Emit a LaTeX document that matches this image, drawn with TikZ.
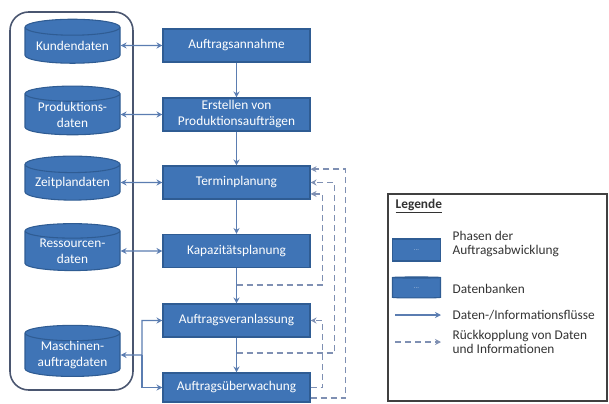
\documentclass[tikz,border=0pt]{standalone}
\usepackage{fontspec}
\setmainfont{Carlito}
\usetikzlibrary{shapes.geometric,arrows.meta}
\definecolor{phasefill}{HTML}{3F74B6}
\definecolor{phaseline}{HTML}{2F5C93}
\definecolor{flowline}{HTML}{5B7DB1}
\definecolor{backline}{HTML}{7F90B3}
\definecolor{frameline}{HTML}{4A5670}
\begin{document}
\begin{tikzpicture}[x=0.75pt,y=-0.75pt,>={Stealth[length=4.5pt,width=4.5pt]},
    phase/.style={draw=phaseline,fill=phasefill,line width=0.8pt,text=white,align=center,
      minimum width=110.25pt,minimum height=24.75pt,inner sep=1pt,font=\fontsize{10}{12}\selectfont},
    dbase/.style={cylinder,shape border rotate=90,aspect=0.22,draw=phaseline,fill=phasefill,
      line width=0.8pt,text=white,align=center,minimum width=71.25pt,minimum height=33pt,
      inner sep=0pt,font=\fontsize{10}{12}\selectfont},
    flow/.style={draw=flowline,line width=1.1pt},
    feedback/.style={draw=backline,line width=1.1pt,dash pattern=on 4.5pt off 3pt},
    legtext/.style={anchor=west,align=left,text=black!80,font=\fontsize{10}{11}\selectfont}]
  \useasboundingbox (0,0) rectangle (609,403);
  % phases
  \node[phase] (annahme) at (236.5,45.5) {Auftragsannahme};
  \node[phase] (erstellen) at (236.5,114.5) {Erstellen von\\Produktionsaufträgen};
  \node[phase] (termin) at (236.5,182.5) {Terminplanung};
  \node[phase] (kapa) at (236.5,251) {Kapazitätsplanung};
  \node[phase] (veran) at (236.5,320.5) {Auftragsveranlassung};
  \node[phase,minimum height=21.75pt] (ueber) at (236.5,387.5) {Auftragsüberwachung};
  % databases
  \draw[frameline,line width=1.2pt,rounded corners=14pt] (10,12) rectangle (133,390);
  \node[dbase] (kunden) at (72.5,45.5) {Kundendaten};
  \node[dbase] (prod) at (72.5,114.5) {Produktions-\\daten};
  \node[dbase] (zeit) at (72.5,182.5) {Zeitplandaten};
  \node[dbase] (ress) at (72.5,251) {Ressourcen-\\daten};
  \node[dbase] (masch) at (72.5,355) {Maschinen-\\auftragdaten};
  % flows
  \draw[flow,<->] (kunden.east) -- (annahme.west);
  \draw[flow,<->] (prod.east) -- (erstellen.west);
  \draw[flow,<->] (zeit.east) -- (termin.west);
  \draw[flow,<->] (ress.east) -- (kapa.west);
  \coordinate (split) at (142,355);
  \draw[flow,<->] (masch.east) -- (split) |- (veran.west);
  \draw[flow,->] (split) |- (ueber.west);
  \draw[flow,->] (annahme) -- (erstellen);
  \draw[flow,->] (erstellen) -- (termin);
  \draw[flow,->] (termin) -- (kapa);
  \draw[flow,->] (kapa) -- (veran);
  \draw[flow,->] (veran) -- (ueber);
  % feedback
  \coordinate (fbkapa) at (236.5,285);
  \coordinate (fbveran) at (236.5,353);
  \draw[feedback,->] (fbkapa) -| ([xshift=9pt,yshift=-8.6pt]termin.east) -- ([yshift=-8.6pt]termin.east);
  \draw[feedback,->] (fbveran) -| ([xshift=18pt]termin.east) -- (termin.east);
  \draw[feedback,->] ([yshift=-7.9pt]ueber.east) -| ([xshift=26.25pt,yshift=10pt]termin.east) -- ([yshift=10pt]termin.east);
  \draw[feedback,->] (ueber.east) -| ([xshift=9pt]veran.east) -- (veran.east);
  % legend
  \draw[black!75,line width=1.1pt] (388,194) rectangle (607,401);
  \node[legtext,font=\fontsize{10}{11}\selectfont\bfseries] (legtitle) at (391,206) {\underline{Legende}};
  \node[phase,minimum width=36pt,minimum height=16.5pt,font=\tiny,text=white!60!phasefill] (legphase) at (416.5,250) {...};
  \node[legtext] (legphasetext) at (448,244) {Phasen der\\Auftragsabwicklung};
  \node[dbase,minimum width=36pt,minimum height=15.75pt,font=\tiny,text=white!60!phasefill] (legdb) at (416.5,288) {...};
  \node[legtext] (legdbtext) at (448,289) {Datenbanken};
  \coordinate (flowa) at (395,315);
  \coordinate (flowb) at (441,315);
  \draw[flow,->] (flowa) -- (flowb);
  \node[legtext] (legflow) at (448,315) {Daten-/Informationsflüsse};
  \coordinate (backa) at (395,342);
  \coordinate (backb) at (441,342);
  \draw[feedback,->] (backa) -- (backb);
  \node[legtext] (legback) at (448,342) {Rückkopplung von Daten\\und Informationen};
\end{tikzpicture}
\end{document}
